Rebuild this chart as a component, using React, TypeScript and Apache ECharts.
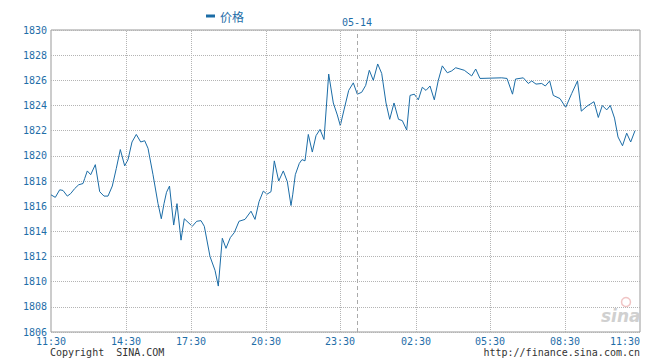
import React, { useEffect, useRef } from "react";
import * as echarts from "echarts";

// sample index along the time axis (data is plotted by sample, as in the original)
const sampleIdx = [
  0, 4.3, 8.7, 12, 16.3, 19.7, 23.7, 27.7, 32, 33.7, 36.3, 39.7, 44.3, 48.7, 53, 57,
  61.3, 65.3, 69.3, 73.7, 77, 81, 85.3, 89.7, 93.7, 97, 102, 107, 110.3, 113, 115.5,
  118.5, 122.7, 126, 130, 133.3, 141.3, 145.7, 150, 153.3, 159, 164, 167.3, 171.3, 175,
  179.3, 183.3, 188, 194, 200, 204, 208, 212.3, 216, 220, 223.3, 227.7, 232.3, 236.3,
  240, 241.7, 244.3, 248.3, 251, 254, 257.3, 261.3, 265, 269, 273, 277.7, 282.3, 286.3,
  289.3, 293, 297.7, 302.3, 306.3, 310.7, 314.7, 318.3, 322.3, 326.7, 330.7, 335, 338.7,
  343, 347.5, 351.3, 355.7, 359, 363.3, 367.3, 371.3, 375, 379, 383.3, 387.3, 391.3,
  396.3, 400.7, 404.7, 409, 413.3, 420.7, 424.7, 429, 450.7, 456, 461.5, 464.5, 472.3,
  477.3, 480.7, 485, 490.7, 494.3, 498.7, 502.3, 509, 514.7, 520.7, 526.5, 530.3, 536,
  543, 547.3, 551.3, 555.7, 559.3, 563.5, 567, 571.5, 575.7, 579.7, 584,
];

const prices = [
  1816.9, 1816.7, 1817.3, 1817.25, 1816.8, 1817.0, 1817.4, 1817.7, 1817.8, 1818.2, 1818.8,
  1818.5, 1819.3, 1817.15, 1816.8, 1816.8, 1817.6, 1819.0, 1820.5, 1819.2, 1819.7, 1821.1,
  1821.7, 1821.1, 1821.2, 1820.6, 1818.5, 1816.2, 1815.0, 1816.2, 1817.1, 1817.6, 1814.5,
  1816.2, 1813.3, 1815.0, 1814.4, 1814.8, 1814.85, 1814.4, 1812.0, 1810.9, 1809.65,
  1813.45, 1812.65, 1813.5, 1813.9, 1814.8, 1814.95, 1815.6, 1814.95, 1816.35, 1817.2,
  1816.95, 1817.15, 1819.6, 1818.0, 1818.8, 1817.95, 1816.05, 1816.9, 1818.5, 1819.4,
  1819.7, 1819.6, 1821.7, 1820.3, 1821.6, 1822.1, 1821.3, 1826.5, 1824.2, 1823.25, 1822.4,
  1823.65, 1825.2, 1825.8, 1824.9, 1825.05, 1825.6, 1826.8, 1826.0, 1827.3, 1826.55,
  1824.2, 1822.9, 1824.2, 1822.9, 1822.8, 1822.05, 1824.8, 1824.9, 1824.45, 1825.45,
  1825.2, 1825.55, 1824.45, 1826.0, 1827.15, 1826.6, 1826.75, 1827.0, 1826.9, 1826.8,
  1826.35, 1826.9, 1826.15, 1826.2, 1826.15, 1824.9, 1826.1, 1826.2, 1825.75, 1825.95,
  1825.7, 1825.75, 1825.55, 1825.95, 1824.8, 1824.55, 1823.85, 1824.95, 1825.95, 1823.55,
  1823.95, 1824.3, 1823.05, 1824.0, 1823.65, 1824.0, 1823.0, 1821.5, 1820.8, 1821.8,
  1821.1, 1822.0,
];

const tickIdx = [0, 75, 140, 215, 289, 365, 439, 514, 589];
const tickLabels = ["11:30", "14:30", "17:30", "20:30", "23:30", "02:30", "05:30", "08:30", "11:30"];
const dayBreakIdx = 306;
const dayLabel = "05-14";
const seriesName = "价格";

const BLUE = "#1f6ea8";
const LINE = "#1b6ca6";
const GRID = "#b4b4b4";
const MONO = "'DejaVu Sans Mono', 'Liberation Mono', monospace";

export default function App() {
  const ref = useRef<HTMLDivElement>(null);

  useEffect(() => {
    if (!ref.current) return;
    const chart = echarts.init(ref.current, null, { renderer: "svg" });
    const data = sampleIdx.map((x, i) => [x, prices[i]]);

    const gridLines = tickIdx.slice(1, -1).map((v) => ({
      xAxis: v,
      lineStyle: { type: "dotted", color: GRID, width: 1 },
      label: { show: false },
    }));
    const dayLine = {
      xAxis: dayBreakIdx,
      lineStyle: { type: [4, 3], color: "#aaa", width: 1 },
      label: {
        show: true,
        position: "end",
        formatter: dayLabel,
        color: BLUE,
        fontSize: 10,
        fontFamily: MONO,
        distance: 3,
      },
    };

    chart.setOption({
      animation: false,
      backgroundColor: "#fff",
      grid: {
        left: 51,
        right: 20,
        top: 30,
        bottom: 28,
        show: true,
        borderColor: "#999",
        borderWidth: 1,
      },
      legend: {
        data: [seriesName],
        left: 201,
        top: 5,
        icon: "rect",
        itemWidth: 9,
        itemHeight: 3,
        textStyle: {
          color: BLUE,
          fontSize: 12,
          fontFamily: "'Noto Sans CJK SC', sans-serif",
        },
      },
      xAxis: {
        type: "value",
        min: 0,
        max: 589,
        axisLine: { show: false },
        axisTick: { show: false },
        splitLine: { show: false },
        axisLabel: {
          customValues: tickIdx,
          formatter: (v: number) => {
            const i = tickIdx.indexOf(v);
            return i >= 0 ? tickLabels[i] : "";
          },
          color: BLUE,
          fontSize: 10,
          fontFamily: MONO,
          margin: 4,
          alignMaxLabel: "right",
        },
      },
      yAxis: {
        type: "value",
        min: 1806,
        max: 1830,
        interval: 2,
        axisLine: { show: false },
        axisTick: { show: false },
        splitLine: { show: true, lineStyle: { type: "dotted", color: GRID, width: 1 } },
        axisLabel: {
          formatter: (v: number) => String(v),
          color: BLUE,
          fontSize: 10,
          fontFamily: MONO,
          margin: 4,
        },
      },
      series: [
        {
          name: seriesName,
          type: "line",
          data,
          showSymbol: false,
          lineStyle: { color: LINE, width: 1 },
          itemStyle: { color: LINE },
          markLine: {
            silent: true,
            symbol: "none",
            animation: false,
            data: [...gridLines, dayLine],
          },
        },
      ],
      graphic: [
        {
          type: "text",
          left: 50,
          top: 347,
          style: { text: "Copyright  SINA.COM", fill: "#333", fontSize: 10, fontFamily: MONO },
        },
        {
          type: "text",
          right: 20,
          top: 347,
          style: { text: "http://finance.sina.com.cn", fill: "#333", fontSize: 10, fontFamily: MONO },
        },
        {
          type: "text",
          left: 601,
          top: 307,
          style: {
            text: "sina",
            fill: "#d0d0d0",
            fontSize: 17,
            fontStyle: "italic",
            fontWeight: "bold",
            fontFamily: "'DejaVu Sans', sans-serif",
          },
        },
        {
          type: "circle",
          shape: { cx: 626, cy: 302, r: 4.5 },
          style: { fill: "none", stroke: "#f0c4c4", lineWidth: 1.5 },
        },
      ],
    });
    return () => chart.dispose();
  }, []);

  return (
    <div
      ref={ref}
      style={{ position: "fixed", left: 0, top: 0, width: 660, height: 360, background: "#fff" }}
    />
  );
}
